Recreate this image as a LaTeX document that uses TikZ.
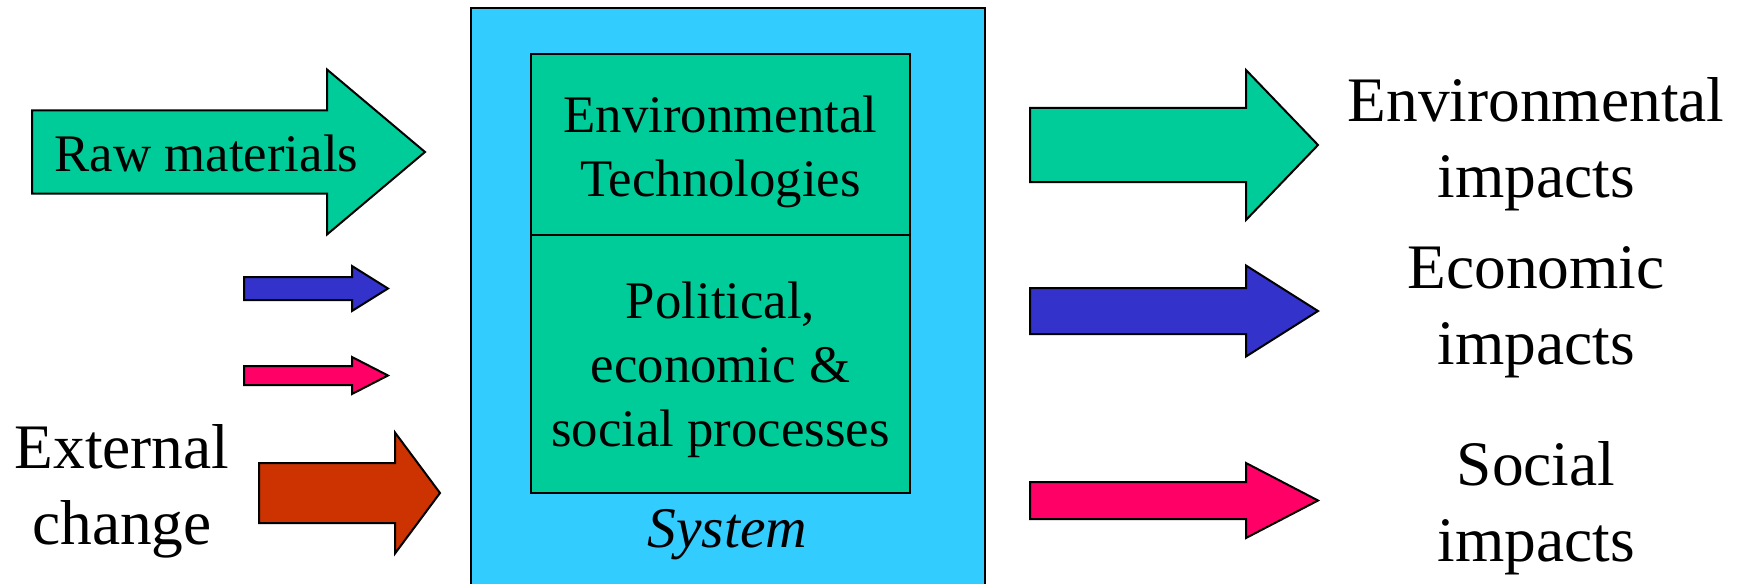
\documentclass[tikz,border=0pt]{standalone}
\usepackage{fontspec}
\setmainfont{Liberation Serif}
\usepackage{tikz}
\usetikzlibrary{positioning}
\definecolor{vert}{RGB}{0,204,153}
\definecolor{ciel}{RGB}{51,204,255}
\definecolor{bleu}{RGB}{51,51,204}
\definecolor{rose}{RGB}{255,0,102}
\definecolor{brique}{RGB}{204,51,0}
\tikzstyle{bloc} = [draw=black,line width=1pt,line join=miter]
\tikzstyle{grand} = [inner sep=0pt,align=center,font=\fontsize{31.7}{38}\selectfont]
\tikzstyle{moyen} = [inner sep=0pt,align=center,font=\fontsize{26.4}{32}\selectfont]
% fill, x start, x head, x tip, y centre, half shaft, half head
\newcommand{\blockarrow}[7]{%
	\filldraw[bloc,fill=#1] (#2,#5-#6) -- (#3,#5-#6) -- (#3,#5-#7) -- (#4,#5)
		-- (#3,#5+#7) -- (#3,#5+#6) -- (#2,#5+#6) -- cycle;}

\begin{document}
\begin{tikzpicture}[x=0.5pt,y=-0.5pt]
	\useasboundingbox (0,0) rectangle (1738,583);

	\filldraw[bloc,fill=ciel] (470.5,8) rectangle (985,600);
	\filldraw[bloc,fill=vert] (531,54) rectangle (910,493);
	\draw[bloc] (531,235) -- (910,235);

	\node[moyen,anchor=base] (envtech) at (720.5,196) {Environmental\\Technologies};
	\node[moyen,anchor=base] (polec) at (720.5,446) {Political,\\economic \&\\social processes};
	\node[inner sep=0pt,anchor=base,font=\fontsize{28.75}{34}\selectfont\itshape] (system) at (727.5,547) {System};

	\blockarrow{vert}{32}{327}{425}{152}{41.5}{82.5}
	\node[moyen,anchor=base] (raw) at (206.5,171.5) {Raw materials};

	\blockarrow{bleu}{244}{352}{388}{288.5}{11.5}{22.5}
	\blockarrow{rose}{244}{352}{388}{375.5}{9.5}{18.5}

	\blockarrow{brique}{259}{395}{440}{493}{30}{60.5}
	\node[grand,anchor=base] (ext) at (122,544) {External\\change};

	\blockarrow{vert}{1030}{1246}{1318}{145}{37}{75}
	\blockarrow{bleu}{1030}{1246}{1318}{311}{23}{45.5}
	\blockarrow{rose}{1030}{1246}{1318}{500.5}{18.5}{37.5}

	\node[grand,anchor=base] (envimp) at (1536,197) {Environmental\\impacts};
	\node[grand,anchor=base] (ecoimp) at (1536,364) {Economic\\impacts};
	\node[grand,anchor=base] (socimp) at (1536,561) {Social\\impacts};
\end{tikzpicture}
\end{document}
